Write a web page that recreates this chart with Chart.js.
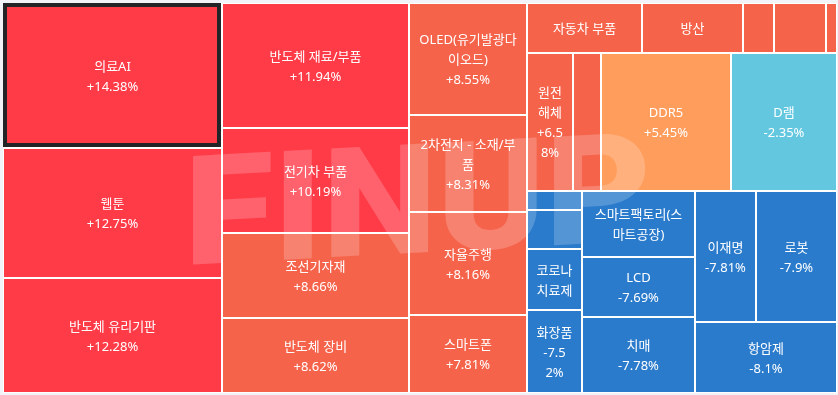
<!DOCTYPE html>
<html>
<head>
<meta charset="utf-8">
<script src="https://cdn.jsdelivr.net/npm/chart.js@4.4.1/dist/chart.umd.min.js"></script>
<style>
  html, body { margin: 0; padding: 0; background: #f1f3f9; }
  canvas { display: block; }
</style>
</head>
<body>
<canvas id="map" width="838" height="395"></canvas>
<script>
// themes in the order the map lays them out (sorted by daily change)
// '' = tile too small for a label in the source, name unknown
const themes = [
  '의료AI', '웹툰', '반도체 유리기판', '반도체 재료/부품', '전기차 부품',
  '조선기자재', '반도체 장비', 'OLED(유기발광다이오드)', '2차전지 - 소재/부품', '자율주행',
  '스마트폰', '자동차 부품', '방산', '', '',
  '', '원전해체', '', 'DDR5', 'D램',
  '', '', '코로나치료제', '화장품', '스마트팩토리(스마트공장)',
  'LCD', '치매', '이재명', '로봇', '항암제'
];
// daily change (%)
const changes = [
  14.38, 12.75, 12.28, 11.94, 10.19,
  8.66, 8.62, 8.55, 8.31, 8.16,
  7.81, 7.6, 7.45, 7.2, 7.0,
  6.8, 6.58, 6.1, 5.45, -2.35,
  -4.9, -6.3, -7.4, -7.52, -7.6,
  -7.69, -7.78, -7.81, -7.9, -8.1
];
// tile size weight
const weights = [
  3172, 2865, 2524, 2331, 1958,
  1585, 1399, 1327, 1150, 1221,
  924, 573, 508, 153, 263,
  53, 626, 385, 1788, 1458,
  106, 213, 333, 452, 746,
  684, 859, 802, 1065, 1008
];
const selectedTheme = '의료AI';

const MAP_W = 834, MAP_H = 390;
const SQUARE_RATIO = 0.5 * (1 + Math.sqrt(5));
const LABEL_FONT = '13px "Noto Sans", "Noto Sans CJK KR", sans-serif';

function tileColor(v) {
  if (v >= 10) return '#ff3b48';
  if (v >= 6) return '#f5634b';
  if (v >= 3) return '#ff9d5c';
  if (v >= 0) return '#ffc49c';
  if (v > -3) return '#63c7e0';
  return '#2a7bcc';
}

function fmtChange(v) {
  return (v > 0 ? '+' : '') + v + '%';
}

// squarified layout, rows kept in the given order
function worst(row, rowArea, fixed) {
  let max = 0, min = Infinity;
  row.forEach(n => {
    if (n.area) { max = Math.max(max, n.area); min = Math.min(min, n.area); }
  });
  const sq = rowArea * rowArea;
  const f = fixed * fixed * SQUARE_RATIO;
  return sq ? Math.max(f * max / sq, sq / (f * min)) : Infinity;
}

function position(row, rowArea, fixed, rect, out, flush) {
  const horizontal = fixed === rect.width;
  let other = rowArea / fixed;
  const avail = horizontal ? rect.height : rect.width;
  if (flush || other > avail) other = avail;
  let last = horizontal ? rect.x : rect.y;
  const end = horizontal ? rect.x + rect.width : rect.y + rect.height;
  row.forEach((n, j) => {
    const step = n.area / other;
    const remain = end - last;
    const len = (j === row.length - 1 || remain < step) ? remain : step;
    out[n.i] = horizontal
      ? { x: last, y: rect.y, w: len, h: other }
      : { x: rect.x, y: last, w: other, h: len };
    last += len;
  });
  if (horizontal) { rect.y += other; rect.height -= other; }
  else { rect.x += other; rect.width -= other; }
}

function squarify(values, bounds) {
  const total = values.reduce((a, b) => a + b, 0);
  const k = bounds.width * bounds.height / total;
  const nodes = values.map((v, i) => ({ i, area: v * k }));
  const rect = Object.assign({}, bounds);
  const out = new Array(values.length);
  let fixed = Math.min(rect.width, rect.height);
  let row = [], rowArea = 0, best = Infinity;
  for (let j = 0; j < nodes.length;) {
    row.push(nodes[j]);
    rowArea += nodes[j].area;
    const score = worst(row, rowArea, fixed);
    if (score <= best) {
      j++;
      best = score;
    } else {
      rowArea -= row.pop().area;
      position(row, rowArea, fixed, rect, out, false);
      fixed = Math.min(rect.width, rect.height);
      row = []; rowArea = 0; best = Infinity;
    }
  }
  if (row.length) position(row, rowArea, fixed, rect, out, true);
  return out;
}

// text wrapping: hangul breaks anywhere, latin runs stay together if they can
function breakWord(ctx, word, maxW) {
  const parts = [];
  let rest = word;
  while (rest.length > 1 && ctx.measureText(rest).width > maxW) {
    let n = rest.length - 1;
    while (n > 1 && ctx.measureText(rest.slice(0, n)).width > maxW) n--;
    if (rest.length - n === 1 && rest.endsWith('%') && n > 1) n--; // don't leave % alone
    parts.push(rest.slice(0, n));
    rest = rest.slice(n);
  }
  if (rest) parts.push(rest);
  return parts;
}

function wrapText(ctx, text, maxW) {
  const lines = [];
  let line = '';
  for (const tok of text.match(/[A-Za-z0-9.+\-%()]+|./gu) || []) {
    const trial = line + tok;
    if (ctx.measureText(trial).width <= maxW) { line = trial; continue; }
    if (line.trim()) lines.push(line.trim());
    line = '';
    if (tok === ' ') continue;
    if (ctx.measureText(tok).width > maxW) {
      const parts = breakWord(ctx, tok, maxW);
      lines.push(...parts.slice(0, -1));
      line = parts[parts.length - 1];
    } else {
      line = tok;
    }
  }
  if (line.trim()) lines.push(line.trim());
  return lines;
}

function drawWatermark(ctx) {
  ctx.save();
  ctx.font = '900 150px Roboto, "Noto Sans", sans-serif';
  const m = ctx.measureText('FINUP');
  const tw = m.actualBoundingBoxLeft + m.actualBoundingBoxRight;
  const th = m.actualBoundingBoxAscent + m.actualBoundingBoxDescent;
  // upright letters on a baseline that climbs to the right
  ctx.setTransform(1, -0.053, 0, 1, 419, 198);
  ctx.scale(452 / tw, 111 / th);
  ctx.fillStyle = 'rgba(255,255,255,0.2)';
  ctx.textAlign = 'left';
  ctx.textBaseline = 'alphabetic';
  ctx.fillText('FINUP', (m.actualBoundingBoxLeft - m.actualBoundingBoxRight) / 2,
    (m.actualBoundingBoxAscent - m.actualBoundingBoxDescent) / 2);
  ctx.restore();
}

const treemapPlugin = {
  id: 'treemap',
  afterDatasetsDraw(chart) {
    const { ctx, chartArea, scales: { x, y } } = chart;
    const cells = squarify(weights, { x: 0, y: 0, width: MAP_W, height: MAP_H });
    ctx.save();
    ctx.fillStyle = '#ffffff';
    ctx.fillRect(chartArea.left, chartArea.top, chartArea.width, chartArea.height);

    const boxes = cells.map(c => {
      const X0 = Math.round(x.getPixelForValue(c.x));
      const X1 = Math.round(x.getPixelForValue(c.x + c.w));
      const Y0 = Math.round(y.getPixelForValue(c.y));
      const Y1 = Math.round(y.getPixelForValue(c.y + c.h));
      return { X0, X1, Y0, Y1 };
    });

    boxes.forEach((b, i) => {
      ctx.fillStyle = tileColor(changes[i]);
      ctx.fillRect(b.X0 + 1, b.Y0 + 1, b.X1 - b.X0 - 2, b.Y1 - b.Y0 - 2);
      if (themes[i] === selectedTheme) {
        ctx.strokeStyle = '#222428';
        ctx.lineWidth = 4;
        ctx.strokeRect(b.X0 + 2, b.Y0 + 2, b.X1 - b.X0 - 5, b.Y1 - b.Y0 - 5);
      }
    });

    drawWatermark(ctx);

    ctx.font = LABEL_FONT;
    ctx.fillStyle = '#ffffff';
    ctx.textAlign = 'center';
    ctx.textBaseline = 'middle';
    const padX = 7.25, padY = 6, lineH = 20;
    boxes.forEach((b, i) => {
      const name = themes[i];
      const w = b.X1 - b.X0, h = b.Y1 - b.Y0;
      const maxW = w - 2 * padX;
      const maxLines = Math.floor((h - 2 * padY) / lineH);
      if (!name || maxW < 26 || maxLines < 1) return;
      const nameLines = wrapText(ctx, name, maxW);
      if (nameLines.length > maxLines) return;
      const valueLines = wrapText(ctx, fmtChange(changes[i]), maxW);
      const lines = nameLines.length + valueLines.length <= maxLines
        ? nameLines.concat(valueLines) : nameLines;
      const cx = (b.X0 + b.X1) / 2, cy = (b.Y0 + b.Y1) / 2 + 1.5;
      lines.forEach((t, k) => {
        ctx.fillText(t, cx, cy + (k - (lines.length - 1) / 2) * lineH);
      });
    });
    ctx.restore();
  }
};

new Chart(document.getElementById('map'), {
  type: 'scatter',
  data: { datasets: [{ data: [], pointRadius: 0 }] },
  options: {
    responsive: false,
    animation: false,
    layout: { padding: { left: 3, top: 3, right: 1, bottom: 2 } },
    plugins: { legend: { display: false }, tooltip: { enabled: false } },
    scales: {
      x: { type: 'linear', display: false, min: 0, max: MAP_W },
      y: { type: 'linear', display: false, min: 0, max: MAP_H, reverse: true }
    }
  },
  plugins: [treemapPlugin]
});
</script>
</body>
</html>
